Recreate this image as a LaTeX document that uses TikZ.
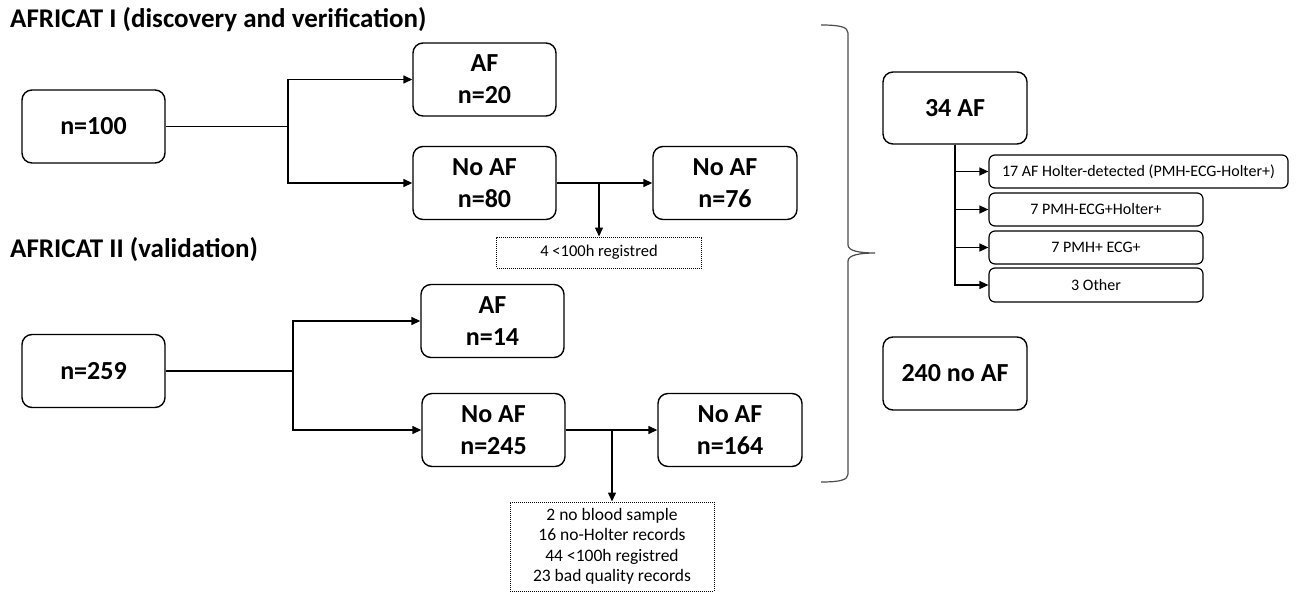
\documentclass[tikz,border=0pt]{standalone}
\usepackage{fontspec}
\setmainfont{Carlito}
\usetikzlibrary{arrows.meta}
\begin{document}
\begin{tikzpicture}[x=1pt,y=-1pt,
  bigbox/.style={draw, line width=1.4pt, rounded corners=10pt, minimum width=143pt, minimum height=73pt, align=center, inner sep=0pt, font=\fontsize{26}{32}\selectfont\bfseries},
  smallbox/.style={draw, line width=1.2pt, rounded corners=6pt, minimum height=33pt, inner sep=0pt, font=\fontsize{16}{20}\selectfont},
  dotbox/.style={draw, line width=1pt, dash pattern=on 1pt off 1pt, inner sep=0pt, align=center, font=\fontsize{16.5}{20.5}\selectfont},
  titletext/.style={anchor=base west, inner sep=0pt, font=\fontsize{27}{32}\selectfont\bfseries},
  conn/.style={line width=1.4pt},
  arr/.style={line width=1.4pt, -{Triangle[length=9pt,width=8pt]}},
  bracestyle/.style={line width=1.2pt, draw=black!70}
]
\useasboundingbox (0,0) rectangle (1297,594);

% titles
\node[titletext] (t1) at (10,28) {AFRICAT I (discovery and verification)};
\node[titletext] (t2) at (10,257) {AFRICAT II (validation)};

% AFRICAT I
\node[bigbox] (n100) at (93.5,126.5) {n=100};
\node[bigbox] (af20) at (484.5,79.5) {AF\\n=20};
\node[bigbox] (noaf80) at (484.5,183) {No AF\\n=80};
\node[bigbox, minimum width=144pt] (noaf76) at (725,183) {No AF\\n=76};
\node[dotbox, minimum width=205pt, minimum height=31pt] (dot1) at (599,252.5) {4 <100h registred};
\coordinate (j1) at (288,126.5);
\coordinate (j2) at (599,183);
\draw[conn] (n100.east) -- (j1);
\draw[arr] (j1) |- (af20.west);
\draw[arr] (j1) |- (noaf80.west);
\draw[arr] (noaf80.east) -- (noaf76.west);
\draw[arr] (j2) -- (dot1.north);

% AFRICAT II
\node[bigbox] (n259) at (93.5,371) {n=259};
\node[bigbox] (af14) at (492.5,321) {AF\\n=14};
\node[bigbox] (noaf245) at (493.5,430) {No AF\\n=245};
\node[bigbox, minimum width=144pt] (noaf164) at (730,430) {No AF\\n=164};
\node[dotbox, minimum width=204pt, minimum height=89pt, font=\fontsize{17.5}{20.5}\selectfont] (dot2) at (612,546.5) {2 no blood sample\\16 no-Holter records\\44 <100h registred\\23 bad quality records};
\coordinate (j3) at (293,371);
\coordinate (j4) at (612,430);
\draw[conn] (n259.east) -- (j3);
\draw[arr] (j3) |- (af14.west);
\draw[arr] (j3) |- (noaf245.west);
\draw[arr] (noaf245.east) -- (noaf164.west);
\draw[arr] (j4) -- (dot2.north);

% brace
\draw[bracestyle] (821,25) .. controls (840,25) and (848,27) .. (848,33) -- (848,245)
  .. controls (848,251) and (860,253) .. (875,253)
  .. controls (860,253) and (848,255) .. (848,261) -- (848,474)
  .. controls (848,480) and (840,482) .. (821,482);

% right side
\node[bigbox, minimum width=144pt, minimum height=72pt] (af34) at (955,108) {34 AF};
\node[bigbox, minimum width=144pt] (noaf240) at (955,373.5) {240 no AF};
\node[smallbox, minimum width=299pt] (s1) at (1138.5,171.5) {17 AF Holter-detected (PMH-ECG-Holter+)};
\node[smallbox, minimum width=214pt] (s2) at (1096,209.5) {7 PMH-ECG+Holter+};
\node[smallbox, minimum width=214pt] (s3) at (1096,247.5) {7 PMH+ ECG+};
\node[smallbox, minimum width=214pt, minimum height=34pt] (s4) at (1096,285) {3 Other};
\draw[arr] (af34.south) |- (s1.west);
\draw[arr] (af34.south) |- (s2.west);
\draw[arr] (af34.south) |- (s3.west);
\draw[arr] (af34.south) |- (s4.west);
\end{tikzpicture}
\end{document}
